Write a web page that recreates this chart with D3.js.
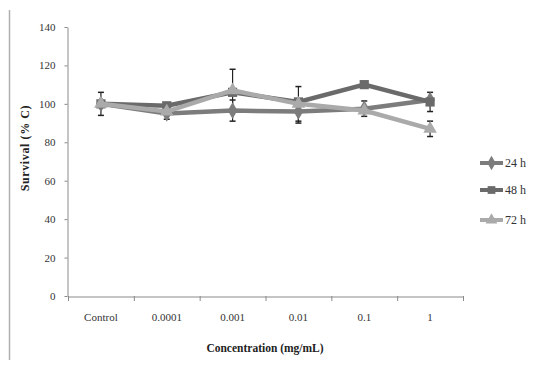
<!DOCTYPE html>
<html><head><meta charset="utf-8">
<script src="https://cdn.jsdelivr.net/npm/d3@7"></script>
<style>body{margin:0;background:#fff}</style>
</head><body>
<svg id="c" width="537" height="366"></svg>
<script>
const categories = ["Control","0.0001","0.001","0.01","0.1","1"];
const yTicks = [0,20,40,60,80,100,120,140];
const seriesNames = ["24 h","48 h","72 h"];
const v24 = [100, 95, 96.5, 96, 97.5, 102];
const v48 = [100, 99, 106, 101, 110, 101];
const v72 = [100, 96, 107, 100, 96.5, 87];
const e24 = [6, 3, 5.5, 6, 4, 0];
const e48 = [0, 0, 0, 0, 0, 5];
const e72 = [0, 0, 11, 9, 0, 4];

const series = [
  {name: seriesNames[0], values: v24, err: e24, color: "#7c7c7c", shape: d3.symbolDiamond},
  {name: seriesNames[1], values: v48, err: e48, color: "#6a6a6a", shape: d3.symbolSquare},
  {name: seriesNames[2], values: v72, err: e72, color: "#aaaaaa", shape: d3.symbolTriangle}
];

const svg = d3.select("#c");
const font = "'Liberation Serif', 'Times New Roman', serif";
const x = d3.scaleBand().domain(categories).range([68, 463]);
const y = d3.scaleLinear().domain([0, 140]).range([296, 27]);

// left frame line
svg.append("line").attr("x1",9.5).attr("x2",9.5).attr("y1",10).attr("y2",360)
  .attr("stroke","#b0b0b0").attr("stroke-width",1.5);

const yAxis = svg.append("g").attr("transform","translate(67.5,0)")
  .call(d3.axisLeft(y).tickValues(yTicks).tickSize(3).tickSizeOuter(0));
const xAxis = svg.append("g").attr("transform","translate(0,296.5)")
  .call(d3.axisBottom(x).tickSize(0));
[yAxis, xAxis].forEach(a => {
  a.select(".domain").attr("stroke","#8a8a8a");
  a.selectAll(".tick line").attr("stroke","#8a8a8a");
  a.selectAll("text").attr("font-family",font).attr("font-size",11).attr("fill","#333");
});
yAxis.selectAll("text").attr("x",-12);
xAxis.selectAll("text").attr("dy",0).attr("y",24);
// x category boundary ticks
const bounds = categories.map(c => x(c)).concat([x.range()[1]]);
svg.append("g").selectAll("line").data(bounds).join("line")
  .attr("x1",d=>d+0.5).attr("x2",d=>d+0.5).attr("y1",296).attr("y2",301)
  .attr("stroke","#8a8a8a");

const cx = c => x(c) + x.bandwidth()/2;
const line = d3.line().x((d,i)=>cx(categories[i])).y(d=>y(d));

// error bars
series.forEach(s => {
  const g = svg.append("g");
  s.values.forEach((v,i) => {
    if (!s.err[i]) return;
    const px = cx(categories[i]);
    g.append("line").attr("x1",px).attr("x2",px).attr("y1",y(v+s.err[i])).attr("y2",y(v-s.err[i]))
      .attr("stroke","#222").attr("stroke-width",1.2);
    [v+s.err[i], v-s.err[i]].forEach(t => g.append("line")
      .attr("x1",px-3).attr("x2",px+3).attr("y1",y(t)).attr("y2",y(t))
      .attr("stroke","#222").attr("stroke-width",1.5));
  });
});

series.forEach(s => {
  svg.append("path").datum(s.values).attr("d",line).attr("fill","none")
    .attr("stroke",s.color).attr("stroke-width",4.5);
  svg.append("g").selectAll("path").data(s.values).join("path")
    .attr("transform",(d,i)=>`translate(${cx(categories[i])},${y(d)})`)
    .attr("d", d3.symbol().type(s.shape).size(s.shape===d3.symbolSquare?85:80))
    .attr("fill",s.color);
});

// legend
const leg = svg.append("g");
series.forEach((s,i) => {
  const ly = [163,190,220][i];
  leg.append("line").attr("x1",480).attr("x2",503).attr("y1",ly).attr("y2",ly)
    .attr("stroke",s.color).attr("stroke-width",4);
  leg.append("path").attr("transform",`translate(491.5,${ly})`)
    .attr("d", d3.symbol().type(s.shape).size(60)).attr("fill",s.color);
  leg.append("text").attr("x",505).attr("y",ly+4).text(s.name)
    .attr("font-family",font).attr("font-size",12).attr("fill","#333");
});

// titles
svg.append("text").attr("x",265).attr("y",352).attr("text-anchor","middle")
  .attr("font-family",font).attr("font-size",11.5).attr("font-weight","bold").attr("fill","#222")
  .text("Concentration  (mg/mL)");
svg.append("text").attr("transform","translate(29,148) rotate(-90)").attr("text-anchor","middle")
  .attr("font-family",font).attr("font-size",12).attr("font-weight","bold").attr("fill","#222")
  .attr("letter-spacing",0.6)
  .text("Survival  (% C)");
</script>
</body></html>
